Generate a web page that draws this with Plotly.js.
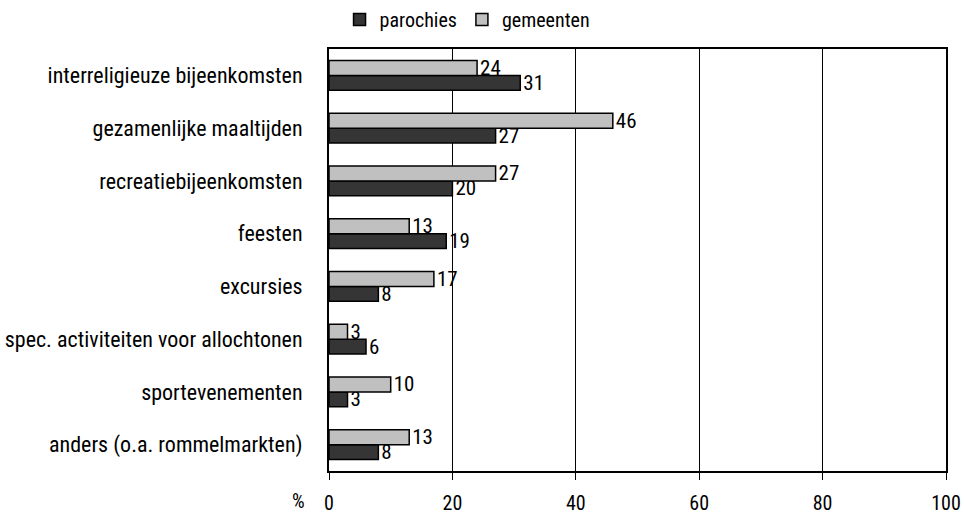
<!DOCTYPE html>
<html>
<head>
<meta charset="utf-8">
<script src="https://cdn.plot.ly/plotly-3.0.1.min.js"></script>
<style>html,body{margin:0;padding:0;background:#fff;}#chart{width:964px;height:517px;}</style>
</head>
<body>
<div id="chart"></div>
<script>
const categories = [
  "interreligieuze bijeenkomsten",
  "gezamenlijke maaltijden",
  "recreatiebijeenkomsten",
  "feesten",
  "excursies",
  "spec. activiteiten voor allochtonen",
  "sportevenementen",
  "anders (o.a. rommelmarkten)"
];
const parochies = [31, 27, 20, 19, 8, 6, 3, 8];
const gemeenten = [24, 46, 27, 13, 17, 3, 10, 13];
const xTickVals = [0, 20, 40, 60, 80, 100];

const FONT = "'Roboto Condensed', 'Liberation Sans Narrow', sans-serif";

const traces = [
  {
    type: 'bar', orientation: 'h', name: 'parochies',
    y: categories, x: parochies,
    text: parochies.map(String), textposition: 'outside', cliponaxis: false,
    constraintext: 'none',
    textfont: {family: FONT, size: 21, color: '#000'},
    marker: {color: '#353535', line: {color: '#000', width: 1.5}},
    hoverinfo: 'none'
  },
  {
    type: 'bar', orientation: 'h', name: 'gemeenten',
    y: categories, x: gemeenten,
    text: gemeenten.map(String), textposition: 'outside', cliponaxis: false,
    constraintext: 'none',
    textfont: {family: FONT, size: 21, color: '#000'},
    marker: {color: '#c0c0c0', line: {color: '#000', width: 1.5}},
    hoverinfo: 'none'
  }
];

const layout = {
  width: 964, height: 517,
  margin: {l: 329, r: 18, t: 49, b: 46},
  paper_bgcolor: '#fff', plot_bgcolor: '#fff',
  font: {family: FONT, size: 20, color: '#000'},
  barmode: 'group', bargap: 0.44, bargroupgap: 0,
  showlegend: true,
  legend: {
    orientation: 'h', xref: 'container', yref: 'container',
    x: 0.485, xanchor: 'center', y: 1.0, yanchor: 'top',
    font: {family: FONT, size: 20, color: '#000'},
    traceorder: 'normal', itemwidth: 30, tracegroupgap: 0
  },
  xaxis: {
    range: [0, 100], tickvals: xTickVals, ticktext: xTickVals.map(String),
    showgrid: true, gridcolor: '#000', gridwidth: 1,
    showline: true, linecolor: '#000', linewidth: 2, mirror: true,
    ticks: 'outside', ticklen: 7, tickcolor: '#000', tickwidth: 1,
    ticklabelstandoff: 6,
    zeroline: false, fixedrange: true,
    tickfont: {family: FONT, size: 20, color: '#000'}
  },
  yaxis: {
    type: 'category', categoryorder: 'array', categoryarray: categories.slice().reverse(),
    showgrid: false, showline: true, linecolor: '#000', linewidth: 2, mirror: true,
    ticks: '', ticklabelstandoff: 20, fixedrange: true,
    tickfont: {family: FONT, size: 22, color: '#000'}
  },
  annotations: [{
    text: '%', xref: 'paper', yref: 'paper', x: -0.05, y: 0, yshift: -30,
    xanchor: 'center', yanchor: 'middle', showarrow: false,
    font: {family: FONT, size: 20, color: '#000'}
  }]
};

Plotly.newPlot('chart', traces, layout, {displayModeBar: false, staticPlot: true});
</script>
</body>
</html>
